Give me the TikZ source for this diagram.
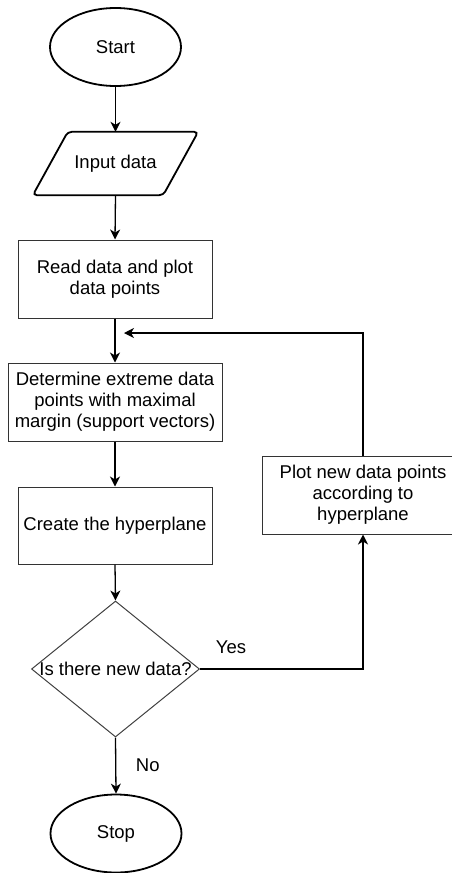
\documentclass[tikz,border=0pt]{standalone}
\usepackage{fontspec}
\setmainfont{Liberation Sans}
\usetikzlibrary{shapes.geometric,arrows.meta,calc}
\begin{document}
\begin{tikzpicture}[x=1pt,y=-1pt,
  every node/.style={font=\fontsize{18.5}{21}\selectfont},
  term/.style={ellipse,draw=black,line width=1.8pt,minimum width=131pt,minimum height=78pt,inner sep=0pt},
  procbox/.style={rectangle,draw=black!80,line width=1pt,align=center,inner sep=0pt},
  iobox/.style={rectangle,draw=none,align=center,inner sep=0pt,minimum width=130pt,minimum height=63pt},
  decision/.style={diamond,draw=black!75,line width=1pt,minimum width=168pt,minimum height=136pt,inner sep=0pt},
  flow/.style={draw=black,line width=1.3pt,-{Stealth[length=10pt,width=10pt,inset=3pt]}},
  lbl/.style={inner sep=0pt}
]
\useasboundingbox (0,0) rectangle (452,873);
\clip (0,0) rectangle (452,873);

\node[term] (start) at (115.5,47) {Start};
\node[iobox] (input) at (115.5,163.5) {Input data};
\draw[line width=1.8pt,rounded corners=4pt]
  ([xshift=17.5pt]input.north west) -- ([xshift=17.5pt]input.north east)
  -- ([xshift=-17.5pt]input.south east) -- ([xshift=-17.5pt]input.south west) -- cycle;
\node[procbox,minimum width=194pt,minimum height=78pt] (read) at (115,279) {Read data and plot\\data points};
\node[procbox,minimum width=214pt,minimum height=78pt] (det) at (115,402) {Determine extreme data\\points with maximal\\margin (support vectors)};
\node[procbox,minimum width=194pt,minimum height=77pt] (create) at (115,525.5) {Create the hyperplane};
\node[decision,label={[lbl]center:Is there new data?}] (dec) at (115.5,669) {};
\node[term] (stop) at (116,833.5) {Stop};
\node[procbox,minimum width=202pt,minimum height=78pt] (plot) at (363,495) {Plot new data points\\according to\\hyperplane};
\coordinate (loopend) at (124,333);

\draw[flow] (start.south) -- (input.north);
\draw[flow] (input.south) -- (read.north);
\draw[flow] (read.south) -- (det.north);
\draw[flow] (det.south) -- (create.north);
\draw[flow] (create.south) -- (dec.north);
\draw[flow] (dec.south) -- node[lbl,pos=0.5,xshift=32pt] {No} (stop.north);
\draw[flow] (dec.east) -- node[lbl,pos=0.19,yshift=22pt] {Yes} (plot.south |- dec.east) -- (plot.south);
\draw[flow] (plot.north) -- (plot.north |- loopend) -- (loopend);
\end{tikzpicture}
\end{document}
